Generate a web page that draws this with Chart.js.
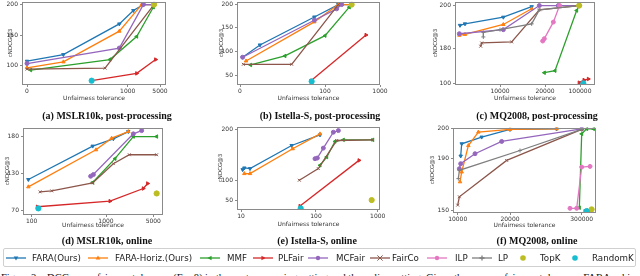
<!DOCTYPE html>
<html><head><meta charset="utf-8">
<script src="https://cdn.jsdelivr.net/npm/chart.js@4/dist/chart.umd.min.js"></script>
<style>
body{margin:0;width:640px;height:276px;overflow:hidden;background:#fff;position:relative;font-family:"DejaVu Sans",sans-serif}
canvas{position:absolute}
.xt{position:absolute;white-space:nowrap;color:#333;font-size:6px;transform:translate(-50%,-50%)}
.yt{position:absolute;white-space:nowrap;color:#333;font-size:5.5px;transform:translate(-50%,-50%) rotate(-90deg)}
.cap{position:absolute;white-space:nowrap;font-family:"Liberation Serif",serif;font-weight:bold;font-size:10px;color:#111;transform:translate(-50%,-50%)}
#legend{position:absolute;left:3px;top:248px;width:633px;height:19px;border:1px solid #d0d0d0;border-radius:2px;box-sizing:border-box}
.li{position:absolute;white-space:nowrap;font-size:8.7px;color:#222;line-height:10px}
#fig{position:absolute;left:1px;top:272px;white-space:nowrap;font-family:"Liberation Serif",serif;font-size:10.5px;line-height:12px;color:#111}
</style></head><body>
<div id="legend"></div>
<div id="fig">Figure 3: nDCG vs. unfairness tolerance (Eq. 8) in the post-processing setting and the online setting. Given the same unfairness tolerance, FARA achieves</div>
<script>
// ---------- data: [unfairness tolerance, cNDCG@3] ----------
// (a) MSLR10k, post-processing
const aXTicks=[0,1000,5000], aYTicks=[100,150,200];
const aFARA=[[0,107.6],[361,118.4],[917,168.6],[1701,190.3],[2938,200],[4258,200]];
const aFARAH=[[0,96.8],[361,106.5],[917,156.8],[2732,200],[4258,200]];
const aMMF=[[36,93.0],[824,110.3],[2113,148.1],[4175,195.7]];
const aPLFair=[[642,75.7],[2113,87.6],[4464,110.3]];
const aMCFair=[[0,103.8],[917,129.2],[2938,200],[4258,200]];
const aFairCo=[[0,94.6],[775,96.2],[4258,200]];
const aTopK=[[4258,200]];
const aRandomK=[[642,75.7]];
// (b) Istella-S, post-processing
const bXTicks=[0,100,1000], bYTicks=[50,100,150,200];
const bFARA=[[3.1,87.4],[23.5,113.4],[87.5,173.2],[318,200],[536,200]];
const bFARAH=[[7.1,79.6],[87.5,162.7],[318,200],[536,200]];
const bMMF=[[12.5,71.2],[52.9,90.2],[100,133.1],[498,194.4]];
const bPLFair=[[83.5,38.1],[771,134.5]];
const bMCFair=[[3.1,87.4],[87.5,166.2],[291,190.8],[373,200]];
const bFairCo=[[3.9,72.6],[60.8,72.6],[318,200]];
const bTopK=[[536,200]];
const bRandomK=[[84.3,36.7]];
// (c) MQ2008, post-processing
const cXTicks=[10000,20000,100000], cYTicks=[100,180,200];
const cFARA=[[1111,190.8],[2222,191.5],[10741,194.6],[17037,199.5]];
const cFARAH=[[963,186.2],[2222,186.6],[10741,191.2],[17037,198.5]];
const cMMF=[[19852,124.4],[42857,129.0],[92381,197.7],[98095,200]];
const cPLFair=[[98095,101.5],[109143,107.6],[119048,109.9]];
const cMCFair=[[963,186.9],[10741,188.8],[18741,200],[50476,200],[98476,200]];
const cFairCo=[[5704,181.1],[5926,182.6],[12593,183.1],[18741,198.0],[98095,200]];
const cILP=[[19481,183.5],[19852,184.6],[39048,192.3],[53333,200]];
const cLP=[[6296,185.4],[6296,187.5],[10000,188.8],[17037,191.5],[18741,198.0],[98095,200]];
const cTopK=[[98095,200]];
const cRandomK=[[107619,100]];
// (d) MSLR10k, online
const dXTicks=[100,1000,5000], dYTicks=[70,130,180];
const dFARA=[[59.6,120.4],[838.6,167.1],[1620,176.9],[2887,186.7]];
const dFARAH=[[59.6,108.6],[879,162.1],[1479,177.8],[2887,186.7]];
const dMMF=[[838.6,115.5],[1761,150.1],[3310,180],[5282,180]];
const dPLFair=[[168.6,76.4],[1338,85.5],[4155,105.9],[4521,114]];
const dMCFair=[[814,125.7],[847,128.4],[3310,183.6],[4014,188]];
const dFairCo=[[201,100.5],[342,102.1],[838.6,115],[1620,143.4],[2972,155.4],[5282,155.4]];
const dTopK=[[5282,97.9]];
const dRandomK=[[180.7,73.8]];
// (e) Istella-S, online
const eXTicks=[10,100,1000], eYTicks=[50,100,200];
const eFARA=[[12,120.9],[14,124.2],[20.8,122.9],[70.8,168.6],[158.4,189.5]];
const eFARAH=[[14,113.1],[20.8,113.1],[72,162.1],[158.4,191.5]];
const eMMF=[[158.4,129.4],[255.7,145.8],[377,176.5],[499,179.7],[927,179.7]];
const ePLFair=[[80.8,35],[727.6,139.2]];
const eMCFair=[[98.8,142.5],[119.5,143.8],[207,163.4],[353,194.8],[426,198]];
const eFairCo=[[80,100],[134,122.9],[402,178.4],[927,179.7]];
const eTopK=[[912,50]];
const eRandomK=[[81.6,29.2]];
// (f) MQ2008, online
const fXTicks=[10000,20000,300000], fYTicks=[150,190,200];
const fFARA=[[10573,190.7],[10764,194.9],[14586,197.2],[20000,199.8],[202280,200]];
const fFARAH=[[10446,171.7],[10764,179.3],[12038,194.3],[13949,198.9],[20000,199.8],[202280,200]];
const fMMF=[[290816,151.8],[300000,198.3],[319526,200],[346000,200]];
const fPLFair=[[313020,149.2],[326040,149.5]];
const fMCFair=[[10318,181.8],[10573,185.7],[13312,191.5],[18408,195.7],[300000,200]];
const fFairCo=[[10000,153.8],[10318,160.2],[19363,188.2],[300000,199.8]];
const fILP=[[254360,151.3],[280400,151.3],[300000,183.1],[332550,183.6]];
const fLP=[[10127,174.2],[10318,180.6],[59060,192.6],[300000,199.8]];
const fTopK=[[338680,150.5]];
const fRandomK=[[319526,149.2]];

const methodNames=['FARA(Ours)','FARA-Horiz.(Ours)','MMF','PLFair','MCFair','FairCo','ILP','LP','TopK','RandomK'];

// ---------- styles ----------
const STY={
 'FARA(Ours)':{c:'#1f77b4',p:'triangle',rot:180},
 'FARA-Horiz.(Ours)':{c:'#ff7f0e',p:'triangle',rot:0},
 'MMF':{c:'#2ca02c',p:'triangle',rot:-90},
 'PLFair':{c:'#d62728',p:'triangle',rot:90},
 'MCFair':{c:'#9467bd',p:'circle',rot:0},
 'FairCo':{c:'#8c564b',p:'crossRot',rot:0},
 'ILP':{c:'#e377c2',p:'circle',rot:0},
 'LP':{c:'#7f7f7f',p:'cross',rot:0},
 'TopK':{c:'#bcbd22',p:'circle',rot:0,dot:true},
 'RandomK':{c:'#17becf',p:'circle',rot:0,dot:true}
};

// axis scale anchors (value -> axis unit) and plot areas [left,right,top,bottom]
const PANELS=[
 {area:[22,166,1,85], xa:[[0,27],[1000,127.7],[5000,160]], ya:[[100,65.7],[150,35],[200,4]], xt:aXTicks, yt:aYTicks,
  s:[['FARA(Ours)',aFARA],['FARA-Horiz.(Ours)',aFARAH],['MMF',aMMF],['PLFair',aPLFair],['MCFair',aMCFair],['FairCo',aFairCo],['TopK',aTopK],['RandomK',aRandomK]],
  ytx:10, cap:'(a) MSLR10k, post-processing', capx:107, capy:115, xtY:97},
 {area:[237,380,1,85], xa:[[0,240],[100,325],[1000,380]], ya:[[50,75],[100,51],[150,27.3],[200,4]], xt:bXTicks, yt:bYTicks,
  s:[['FARA(Ours)',bFARA],['FARA-Horiz.(Ours)',bFARAH],['MMF',bMMF],['PLFair',bPLFair],['MCFair',bMCFair],['FairCo',bFairCo],['TopK',bTopK],['RandomK',bRandomK]],
  ytx:221, cap:'(b) Istella-S, post-processing', capx:320, capy:115, xtY:97},
 {area:[455,595,1,85], xa:[[0,455],[10000,500],[20000,545],[100000,580]], ya:[[100,83.3],[180,48.3],[200,5]], xt:cXTicks, yt:cYTicks,
  s:[['FARA(Ours)',cFARA],['FARA-Horiz.(Ours)',cFARAH],['MMF',cMMF],['PLFair',cPLFair],['MCFair',cMCFair],['FairCo',cFairCo],['ILP',cILP],['LP',cLP],['TopK',cTopK],['RandomK',cRandomK]],
  ytx:435, cap:'(c) MQ2008, post-processing', capx:537, capy:115, xtY:97},
 {area:[23,163,127,215], xa:[[100,31.7],[1000,106],[5000,153.3]], ya:[[70,210.7],[130,173.3],[180,136]], xt:dXTicks, yt:dYTicks,
  s:[['FARA(Ours)',dFARA],['FARA-Horiz.(Ours)',dFARAH],['MMF',dMMF],['PLFair',dPLFair],['MCFair',dMCFair],['FairCo',dFairCo],['TopK',dTopK],['RandomK',dRandomK]],
  ytx:7, cap:'(d) MSLR10k, online', capx:107, capy:240, xtY:224},
 {area:[237,380,126,210], xa:[[10,241],[100,316],[1000,377.7]], ya:[[50,200],[100,180],[200,129]], xt:eXTicks, yt:eYTicks,
  s:[['FARA(Ours)',eFARA],['FARA-Horiz.(Ours)',eFARAH],['MMF',eMMF],['PLFair',ePLFair],['MCFair',eMCFair],['FairCo',eFairCo],['TopK',eTopK],['RandomK',eRandomK]],
  ytx:220, cap:'(e) Istella-S, online', capx:317, capy:240, xtY:223},
 {area:[453,596,127,213], xa:[[10000,457.7],[20000,510],[300000,581.7]], ya:[[150,210],[190,157.7],[200,128.3]], xt:fXTicks, yt:fYTicks,
  s:[['FARA(Ours)',fFARA],['FARA-Horiz.(Ours)',fFARAH],['MMF',fMMF],['PLFair',fPLFair],['MCFair',fMCFair],['FairCo',fFairCo],['ILP',fILP],['LP',fLP],['TopK',fTopK],['RandomK',fRandomK]],
  ytx:432, cap:'(f) MQ2008, online', capx:537, capy:240, xtY:224}
];

function pw(anch){
  return v=>{
    let i=0;
    while(i<anch.length-2 && v>anch[i+1][0]) i++;
    const [v0,p0]=anch[i],[v1,p1]=anch[i+1];
    return p0+(v-v0)/(v1-v0)*(p1-p0);
  };
}
const frame={id:'frame',afterDraw(ch){const a=ch.chartArea,x=ch.ctx;x.save();x.strokeStyle='#8a8a8a';x.lineWidth=1;
  x.strokeRect(Math.round(a.left)+0.5,Math.round(a.top)+0.5,Math.round(a.right-a.left)-1,Math.round(a.bottom-a.top)-1);x.restore();}};

function addDiv(cls,txt,x,y){const d=document.createElement('div');d.className=cls;d.textContent=txt;d.style.left=x+'px';d.style.top=y+'px';document.body.appendChild(d);}

PANELS.forEach(P=>{
  const [L,R,T,B]=P.area;
  const box={l:L-22,r:R+10,t:T-5,b:B+10};
  const cv=document.createElement('canvas');
  cv.width=box.r-box.l; cv.height=box.b-box.t;
  cv.style.left=box.l+'px'; cv.style.top=box.t+'px';
  cv.style.width=cv.width+'px'; cv.style.height=cv.height+'px';
  document.body.appendChild(cv);
  const tx=pw(P.xa), ty=pw(P.ya);
  const n=P.s.length;
  const ds=P.s.map(([name,arr],i)=>{
    const st=STY[name];
    return {label:name,data:arr.map(p=>({x:tx(p[0]),y:ty(p[1])})),
      showLine:!st.dot,borderColor:st.c,backgroundColor:st.c,borderWidth:1.3,
      pointStyle:st.p,rotation:st.rot,pointRadius:st.dot?2.6:2,pointBorderWidth:1,
      pointBorderColor:st.c,pointBackgroundColor:st.c,tension:0,order:n-i};
  });
  const tickFont={size:6,family:'DejaVu Sans'};
  new Chart(cv,{type:'scatter',data:{datasets:ds},
    options:{responsive:false,animation:false,devicePixelRatio:1,
      layout:{padding:{top:T-box.t,right:box.r-R,left:0,bottom:0}},
      plugins:{legend:{display:false},tooltip:{enabled:false}},
      scales:{
        x:{type:'linear',min:L,max:R,
          afterFit(s){s.height=box.b-B;},
          afterBuildTicks(s){s.ticks=P.xt.map(v=>({value:tx(v)}));},
          ticks:{callback:(v,i)=>String(P.xt[i]),font:tickFont,color:'#333',padding:1,maxRotation:0,minRotation:0,autoSkip:false},
          grid:{display:true,drawOnChartArea:false,tickLength:2,color:'#8a8a8a'},border:{display:false}},
        y:{type:'linear',reverse:true,min:T,max:B,
          afterFit(s){s.width=L-box.l;},
          afterBuildTicks(s){s.ticks=P.yt.map(v=>({value:ty(v)}));},
          ticks:{callback:(v,i)=>String(P.yt[i]),font:tickFont,color:'#333',padding:2,autoSkip:false},
          grid:{display:true,drawOnChartArea:false,tickLength:2,color:'#8a8a8a'},border:{display:false}}
      }},
    plugins:[frame]});
  addDiv('xt','Unfairness tolerance',(L+R)/2,P.xtY);
  addDiv('yt','cNDCG@3',P.ytx,(T+B)/2);
  addDiv('cap',P.cap,P.capx,P.capy);
});

// ---------- legend ----------
const LEG_POS={'FARA(Ours)':[6,32],'FARA-Horiz.(Ours)':[88,115],'MMF':[200,227],'PLFair':[253,278],'MCFair':[308,336],
  'FairCo':[370,392],'ILP':[427,455],'LP':[472,498],'TopK':[517,540],'RandomK':[569,592]};
function markerSVG(st,cx,cy){
  const c=st.c, r=2.6;
  if(st.p==='triangle'){
    const pts=[[0,-r],[r*0.9,r*0.6],[-r*0.9,r*0.6]].map(([x,y])=>{const a=st.rot*Math.PI/180;return [cx+x*Math.cos(a)-y*Math.sin(a),cy+x*Math.sin(a)+y*Math.cos(a)];});
    return `<polygon points="${pts.map(p=>p.join(',')).join(' ')}" fill="${c}"/>`;
  }
  if(st.p==='circle') return `<circle cx="${cx}" cy="${cy}" r="${st.dot?2.8:2.2}" fill="${c}"/>`;
  if(st.p==='crossRot') return `<path d="M${cx-r} ${cy-r}L${cx+r} ${cy+r}M${cx+r} ${cy-r}L${cx-r} ${cy+r}" stroke="${c}" stroke-width="1"/>`;
  return `<path d="M${cx-r} ${cy}L${cx+r} ${cy}M${cx} ${cy-r}L${cx} ${cy+r}" stroke="${c}" stroke-width="1.3"/>`;
}
methodNames.forEach(name=>{
  const st=STY[name],[ix,tx]=LEG_POS[name];
  const s=document.createElementNS('http://www.w3.org/2000/svg','svg');
  s.setAttribute('width','22');s.setAttribute('height','10');
  s.style.position='absolute';s.style.left=ix+'px';s.style.top='253px';
  let inner='';
  if(!st.dot) inner+=`<line x1="0" y1="5" x2="20" y2="5" stroke="${st.c}" stroke-width="1.3"/>`;
  inner+=markerSVG(st,st.dot?6:10,5);
  s.innerHTML=inner;document.body.appendChild(s);
  const d=document.createElement('div');d.className='li';d.textContent=name;d.style.left=tx+'px';d.style.top='253px';document.body.appendChild(d);
});
</script>
</body></html>
